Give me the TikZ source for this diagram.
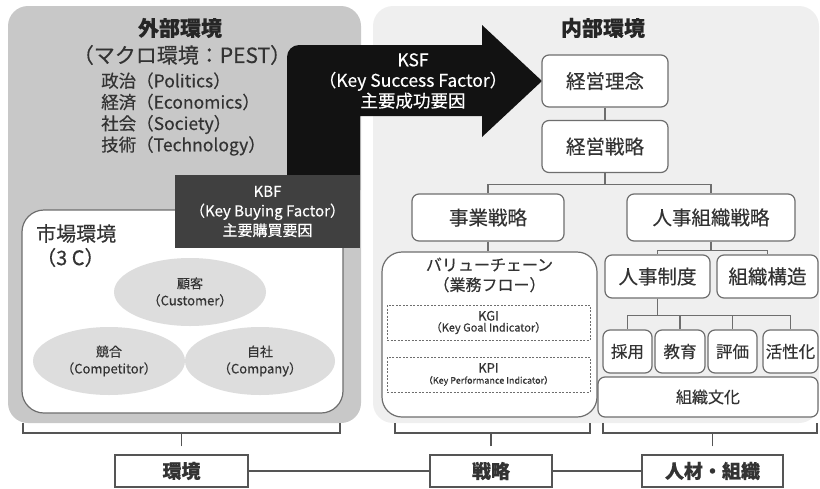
\documentclass[tikz,border=0pt]{standalone}
\usepackage{fontspec}
\setmainfont{Noto Sans CJK JP}[FakeBold=0.35]
\usetikzlibrary{shapes.geometric,calc}
\definecolor{extgray}{HTML}{C8C8C8}
\definecolor{intgray}{HTML}{EFEFEF}
\definecolor{bordergray}{HTML}{6E6E6E}
\definecolor{kbfgray}{HTML}{404040}
\definecolor{ellgray}{HTML}{DDDDDD}
\definecolor{txt}{HTML}{333333}
\definecolor{linegray}{HTML}{555555}
\begin{document}
\begin{tikzpicture}[x=1pt,y=-1pt,
  panel/.style={rectangle, rounded corners=20pt, inner sep=0pt, draw=none},
  wbox/.style={draw=bordergray, fill=white, line width=1.2pt, rounded corners=7pt, inner sep=0pt, align=center, text=txt},
  dbox/.style={draw=bordergray, line width=0.9pt, dash pattern=on 2pt off 1.5pt, inner sep=0pt, align=center, text=txt},
  bbox/.style={draw=linegray, fill=white, line width=1.3pt, inner sep=0pt, align=center, text=txt, font=\fontsize{19}{22}\selectfont\bfseries},
  ell/.style={ellipse, fill=ellgray, draw=none, inner sep=0pt, align=center, text=txt, font=\fontsize{13}{17}\selectfont},
  conn/.style={draw=bordergray, line width=1.2pt},
  brace/.style={draw=linegray, line width=1.2pt},
  fsbig/.style={font=\fontsize{19.5}{22}\selectfont},
  fsmid/.style={font=\fontsize{16.5}{20}\selectfont},
]
\useasboundingbox (0,0) rectangle (820,488);
% panels
\node[panel, fill=extgray, minimum width=353pt, minimum height=417pt] (ext) at (184.5,214.5) {};
\node[panel, fill=intgray, minimum width=446pt, minimum height=417pt] (int) at (596,214.5) {};
% market environment
\node[wbox, rounded corners=22pt, minimum width=321pt, minimum height=203pt] (market) at (182.5,311.5) {};
\node[ell, minimum width=152pt, minimum height=68pt] (kokyaku) at (190,292) {顧客\\（Customer）};
\node[ell, minimum width=152pt, minimum height=68pt] (kyogo) at (109,361) {競合\\（Competitor）};
\node[ell, minimum width=150pt, minimum height=68pt] (jisha) at (260,361) {自社\\（Company）};
\node[anchor=north west, align=left, text=txt, inner sep=0pt, font=\fontsize{20}{24}\selectfont] (mtitle) at (36,224) {市場環境\\（3 C）};
% KSF arrow
\fill[black!93] (360,190) -- (287,190) -- (287,57) .. controls (287,50.4) and (292.4,45) .. (299,45) -- (482,45) -- (482,25) -- (542,81) -- (482,137) -- (482,116) -- (360,116) -- cycle;
\node[align=center, text=white, inner sep=0pt, font=\fontsize{17.5}{20.5}\selectfont] (ksf) at (413,81) {KSF\\（Key Success Factor）\\主要成功要因};
% KBF
\node[rectangle, fill=kbfgray, minimum width=185pt, minimum height=73pt, inner sep=0pt, align=center, text=white, font=\fontsize{15}{19.5}\selectfont] (kbf) at (267.5,211.5) {KBF\\（Key Buying Factor）\\主要購買要因};
% external texts
\node[text=black!85, inner sep=0pt, font=\fontsize{21}{24}\selectfont\bfseries] (exttitle) at (180,28) {外部環境};
\node[text=txt, inner sep=0pt, font=\fontsize{21}{24}\selectfont] (macro) at (182,55) {（マクロ環境：PEST）};
\node[anchor=west, align=left, text=txt, inner sep=0pt, font=\fontsize{17.5}{21.3}\selectfont] (pest) at (101,114) {政治（Politics）\\経済（Economics）\\社会（Society）\\技術（Technology）};
% internal
\node[text=black!85, inner sep=0pt, font=\fontsize{21}{24}\selectfont\bfseries] (inttitle) at (603,28) {内部環境};
\node[wbox, fsbig, minimum width=126pt, minimum height=52pt] (rinen) at (605,81) {経営理念};
\node[wbox, fsbig, minimum width=126pt, minimum height=52pt] (keisen) at (605,146.5) {経営戦略};
\node[wbox, fsbig, minimum width=152pt, minimum height=47pt] (jigyo) at (488,217.5) {事業戦略};
\node[wbox, fsbig, minimum width=168pt, minimum height=47pt] (jinji) at (711,217.5) {人事組織戦略};
\node[wbox, rounded corners=20pt, minimum width=215pt, minimum height=165pt] (vchain) at (489.5,334.5) {};
\node[align=center, text=txt, inner sep=0pt, font=\fontsize{16}{20}\selectfont] (vctext) at (489.5,275) {バリューチェーン\\（業務フロー）};
\node[dbox, minimum width=203pt, minimum height=35pt] (kgi) at (488.5,322.5) {{\fontsize{13}{15}\selectfont KGI}\\[-1pt]{\fontsize{11}{14}\selectfont （Key Goal Indicator）}};
\node[dbox, minimum width=203pt, minimum height=35pt] (kpi) at (488.5,374.5) {{\fontsize{13}{15}\selectfont KPI}\\[-1pt]{\fontsize{9}{12}\selectfont （Key Performance Indicator）}};
\node[wbox, fsbig, minimum width=105pt, minimum height=43pt] (seido) at (657.5,276.5) {人事制度};
\node[wbox, fsbig, minimum width=101pt, minimum height=43pt] (kozo) at (767.5,276.5) {組織構造};
\node[wbox, fsmid, minimum width=49pt, minimum height=43pt] (saiyo) at (627.5,351.5) {採用};
\node[wbox, fsmid, minimum width=50pt, minimum height=43pt] (kyoiku) at (680,351.5) {教育};
\node[wbox, fsmid, minimum width=49pt, minimum height=43pt] (hyoka) at (732.5,351.5) {評価};
\node[wbox, fsmid, minimum width=55pt, minimum height=43pt] (kassei) at (790.5,351.5) {活性化};
\node[wbox, font=\fontsize{16}{20}\selectfont, minimum width=220pt, minimum height=40pt] (bunka) at (708,397) {組織文化};
% tree connectors
\draw[conn] (rinen.south) -- (keisen.north);
\draw[conn] (keisen.south) -- ++(0,11) -| (jigyo.north);
\draw[conn] (keisen.south) -- ++(0,11) -| (jinji.north);
\draw[conn] (jigyo.south) -- (vchain.north -| jigyo.south);
\draw[conn] (jinji.south) -- ++(0,9) -| (seido.north);
\draw[conn] (jinji.south) -- ++(0,9) -| (kozo.north);
\draw[conn] (seido.south) -- ++(0,17) -| (saiyo.north);
\draw[conn] (seido.south) -- ++(0,17) -| (kyoiku.north);
\draw[conn] (seido.south) -- ++(0,17) -| (hyoka.north);
\draw[conn] (seido.south) -- ++(0,17) -| (kassei.north);
% bottom boxes
\node[bbox, minimum width=133pt, minimum height=32pt] (kankyo) at (181.5,471) {環境};
\node[bbox, minimum width=122pt, minimum height=32pt] (senryaku) at (491,471) {戦略};
\node[bbox, minimum width=141pt, minimum height=32pt] (jinzai) at (712.5,471) {人材・組織};
\draw[brace] (kankyo.east) -- (senryaku.west);
\draw[brace] (senryaku.east) -- (jinzai.west);
% brackets
\coordinate (b1l) at (23,423); \coordinate (b1r) at (340,423);
\coordinate (b2l) at (395,423); \coordinate (b2r) at (590,423);
\coordinate (b3l) at (603,423); \coordinate (b3r) at (817,423);
\draw[brace] (b1l) -- ++(0,10) -- ($(b1r)+(0,10)$) -- (b1r);
\draw[brace] (kankyo.north) ++(0,-8) -- ++(0,-14);
\draw[brace] (b2l) -- ++(0,10) -- ($(b2r)+(0,10)$) -- (b2r);
\draw[brace] (senryaku.north) ++(0,-8) -- ++(0,-14);
\draw[brace] (b3l) -- ++(0,10) -- ($(b3r)+(0,10)$) -- (b3r);
\draw[brace] (jinzai.north) ++(0,-8) -- ++(0,-14);
\end{tikzpicture}
\end{document}
